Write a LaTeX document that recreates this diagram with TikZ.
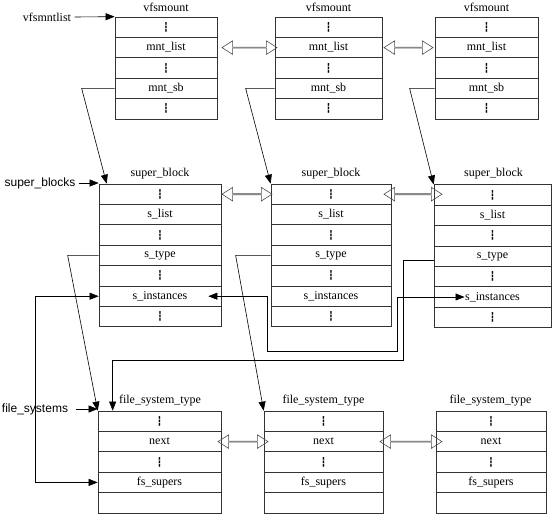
\documentclass[tikz,border=0pt]{standalone}
\usepackage{fontspec}
\setmainfont{Liberation Serif}
\newfontfamily\labelsans{Liberation Sans}
\newfontfamily\dashfont{DejaVu Sans}
\newcommand{\fielddots}{{\dashfont\fontsize{9pt}{10pt}\selectfont ┇}}
\usetikzlibrary{arrows.meta,shapes.arrows}

\begin{document}
\begin{tikzpicture}
[x=1pt,y=-1pt,
  every node/.style={font=\fontsize{12pt}{14pt}\selectfont},%
  fielddecorate/.style={shape=rectangle,draw=black!80,line width=0.7pt,inner sep=0pt,minimum height=20.4pt,minimum width=#1},%
  labeldecorate/.style={font=\fontsize{12pt}{14pt}\selectfont\labelsans},%
  linedecorate/.style={-{Triangle[length=9pt,width=7pt]},line width=0.6pt},%
  bothdecorate/.style={{Triangle[length=9pt,width=7pt]}-{Triangle[length=9pt,width=7pt]},line width=0.6pt},%
  listdecorate/.style={shape=double arrow,draw=black!70,line width=0.6pt,inner sep=0pt,minimum width=13.5pt,double arrow head extend=3.5pt,double arrow tip angle=65,minimum height=#1}]
\useasboundingbox (0,0) rectangle (557,523);
%%% vfsmount structures
% titles
\node (v1title) at (166,7) {vfsmount};
\node (v2title) at (328.5,7) {vfsmount};
\node (v3title) at (486.5,7) {vfsmount};
% fields
\node (v1a) at (166,27.2) [fielddecorate=102pt] {\fielddots};
\node (v1list) at (166,47.6) [fielddecorate=102pt] {mnt\_list};
\node (v1c) at (166,68) [fielddecorate=102pt] {\fielddots};
\node (v1sb) at (166,88.4) [fielddecorate=102pt] {mnt\_sb};
\node (v1e) at (166,108.8) [fielddecorate=102pt] {\fielddots};
\node (v2a) at (328.5,27.2) [fielddecorate=107pt] {\fielddots};
\node (v2list) at (328.5,47.6) [fielddecorate=107pt] {mnt\_list};
\node (v2c) at (328.5,68) [fielddecorate=107pt] {\fielddots};
\node (v2sb) at (328.5,88.4) [fielddecorate=107pt] {mnt\_sb};
\node (v2e) at (328.5,108.8) [fielddecorate=107pt] {\fielddots};
\node (v3a) at (486.5,27.2) [fielddecorate=103pt] {\fielddots};
\node (v3list) at (486.5,47.6) [fielddecorate=103pt] {mnt\_list};
\node (v3c) at (486.5,68) [fielddecorate=103pt] {\fielddots};
\node (v3sb) at (486.5,88.4) [fielddecorate=103pt] {mnt\_sb};
\node (v3e) at (486.5,108.8) [fielddecorate=103pt] {\fielddots};
% list links
\node (v12) at (249.5,47.6) [listdecorate=55pt] {};
\node (v23) at (408.5,47.6) [listdecorate=49pt] {};
%
%%% super_block structures
% titles
\node (s1title) at (160,174) {super\_block};
\node (s2title) at (331,174) {super\_block};
\node (s3title) at (493.5,174) {super\_block};
% fields
\node (s1a) at (160,194.2) [fielddecorate=122pt] {\fielddots};
\node (s1list) at (160,214.6) [fielddecorate=122pt] {s\_list};
\node (s1c) at (160,235) [fielddecorate=122pt] {\fielddots};
\node (s1type) at (160,255.4) [fielddecorate=122pt] {s\_type};
\node (s1e) at (160,275.8) [fielddecorate=122pt] {\fielddots};
\node (s1inst) at (160,296.2) [fielddecorate=122pt] {s\_instances};
\node (s1g) at (160,316.6) [fielddecorate=122pt] {\fielddots};
\node (s2a) at (331,194.2) [fielddecorate=120pt] {\fielddots};
\node (s2list) at (331,214.6) [fielddecorate=120pt] {s\_list};
\node (s2c) at (331,235) [fielddecorate=120pt] {\fielddots};
\node (s2type) at (331,255.4) [fielddecorate=120pt] {s\_type};
\node (s2e) at (331,275.8) [fielddecorate=120pt] {\fielddots};
\node (s2inst) at (331,296.2) [fielddecorate=120pt] {s\_instances};
\node (s2g) at (331,316.6) [fielddecorate=120pt] {\fielddots};
\node (s3a) at (492.5,195) [fielddecorate=117pt] {\fielddots};
\node (s3list) at (492.5,215.4) [fielddecorate=117pt] {s\_list};
\node (s3c) at (492.5,235.8) [fielddecorate=117pt] {\fielddots};
\node (s3type) at (492.5,256.2) [fielddecorate=117pt] {s\_type};
\node (s3e) at (492.5,276.6) [fielddecorate=117pt] {\fielddots};
\node (s3inst) at (492.5,297) [fielddecorate=117pt] {s\_instances};
\node (s3g) at (492.5,317.4) [fielddecorate=117pt] {\fielddots};
% list links
\node (s12) at (247,194.2) [listdecorate=50pt] {};
\node (s23) at (413,194.2) [listdecorate=58pt] {};
%
%%% file_system_type structures
% titles
\node (f1title) at (160,401) {file\_system\_type};
\node (f2title) at (323.5,401) {file\_system\_type};
\node (f3title) at (490.5,401) {file\_system\_type};
% fields
\node (f1a) at (159.5,421.2) [fielddecorate=123pt] {\fielddots};
\node (f1next) at (159.5,441.6) [fielddecorate=123pt] {next};
\node (f1c) at (159.5,462) [fielddecorate=123pt] {\fielddots};
\node (f1fs) at (159.5,482.4) [fielddecorate=123pt] {fs\_supers};
\node (f1e) at (159.5,502.8) [fielddecorate=123pt] {};
\node (f2a) at (323.5,421.2) [fielddecorate=119pt] {\fielddots};
\node (f2next) at (323.5,441.6) [fielddecorate=119pt] {next};
\node (f2c) at (323.5,462) [fielddecorate=119pt] {\fielddots};
\node (f2fs) at (323.5,482.4) [fielddecorate=119pt] {fs\_supers};
\node (f2e) at (323.5,502.8) [fielddecorate=119pt] {};
\node (f3a) at (491,421.2) [fielddecorate=110pt] {\fielddots};
\node (f3next) at (491,441.6) [fielddecorate=110pt] {next};
\node (f3c) at (491,462) [fielddecorate=110pt] {\fielddots};
\node (f3fs) at (491,482.4) [fielddecorate=110pt] {fs\_supers};
\node (f3e) at (491,502.8) [fielddecorate=110pt] {};
% list links
\node (f12) at (243,441.6) [listdecorate=50pt] {};
\node (f23) at (411,441.6) [listdecorate=62pt] {};
%
%%% list heads
\node (vfsmntlist) at (47,17) {vfsmntlist};
\node (superblocks) at (40,183) [labeldecorate] {super\_blocks};
\node (filesystems) at (35,409) [labeldecorate] {file\_systems};
\draw[linedecorate] (vfsmntlist.east) -- (v1a.north west);
\draw[linedecorate] (superblocks.east) -- (superblocks.east -| s1a.west);
\draw[linedecorate] ([xshift=4pt]filesystems.east) -- (filesystems.east -| f1a.west);
%
%%% pointers
% mnt_sb -> super_block
\draw[linedecorate] (v1sb.west) -- ++(-33,0) -- ([xshift=8pt]s1a.north west);
\draw[linedecorate] (v2sb.west) -- ++(-29,0) -- (s2a.north west);
\draw[linedecorate] (v3sb.west) -- ++(-25,0) -- (s3a.north west);
% s_type -> file_system_type
\draw[linedecorate] (s1type.west) -- ++(-31,0) -- (f1a.north west);
\draw[linedecorate] (s2type.west) -- ++(-35,0) -- (f2a.north west);
\draw[linedecorate] ([yshift=-4pt]s3type.west) -- ++(-30,0) -- ++(0,100) -| ([xshift=15pt]f1a.north west);
% fs_supers <-> s_instances
\draw[bothdecorate] (s1inst.west) -- ++(-63,0) |- (f1fs.west);
\draw[bothdecorate] ([xshift=-13pt]s1inst.east) -- ++(59,0) -- ++(0,55) -- ++(130,0) |- ([xshift=-28pt]s3inst.center);
\end{tikzpicture}
\end{document}
